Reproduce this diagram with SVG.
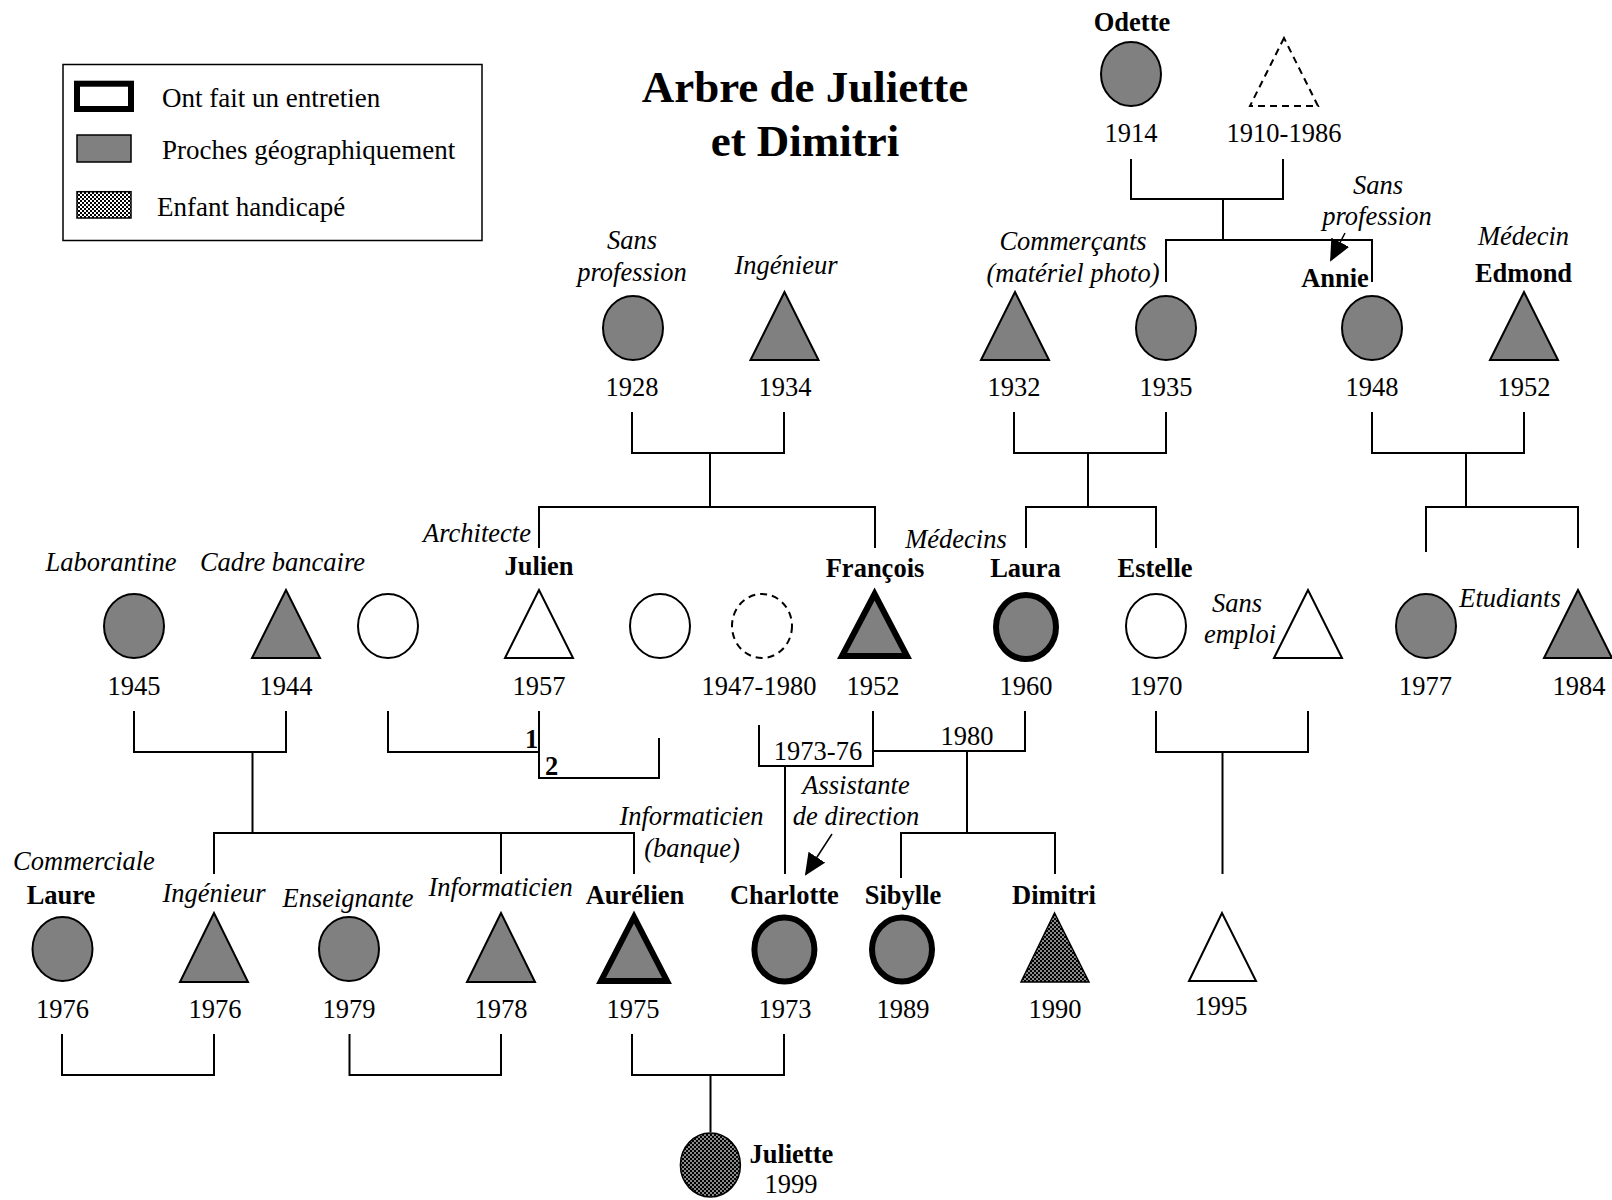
<svg xmlns="http://www.w3.org/2000/svg" width="1612" height="1200" viewBox="0 0 1612 1200">
<style>
text{font-family:"Liberation Serif","Times New Roman",serif;font-size:26.5px;fill:#000}
.c{text-anchor:middle}
.b{font-weight:bold}
.i{font-style:italic}
.t{font-size:45px;font-weight:bold;text-anchor:middle}
.lg{font-size:27px}
.g{fill:#808080;stroke:#000;stroke-width:2}
.w{fill:#fff;stroke:#000;stroke-width:2}
.d{fill:#fff;stroke:#000;stroke-width:2;stroke-dasharray:7 5}
.k{fill:#808080;stroke:#000;stroke-width:6}
.h{fill:url(#chk);stroke:#000;stroke-width:1.5}
.ln{fill:none;stroke:#000;stroke-width:2}
</style>
<defs>
<pattern id="chk" width="4" height="4" patternUnits="userSpaceOnUse">
<rect width="4" height="4" fill="#8a8a8a"/>
<rect width="2" height="2" fill="#000"/>
<rect x="2" y="2" width="2" height="2" fill="#000"/>
</pattern>
<pattern id="chkw" width="4" height="4" patternUnits="userSpaceOnUse">
<rect width="4" height="4" fill="#fff"/>
<rect width="2" height="2" fill="#000"/>
<rect x="2" y="2" width="2" height="2" fill="#000"/>
</pattern>
<marker id="ah" markerWidth="22" markerHeight="20" refX="20" refY="10" orient="auto" markerUnits="userSpaceOnUse">
<path d="M0,0 L22,10 L0,20 Z" fill="#000"/>
</marker>
</defs>

<g id="legend">
<rect x="63" y="64.5" width="419" height="176" fill="#fff" stroke="#000" stroke-width="1.5"/>
<rect x="77" y="83.7" width="54" height="25.3" fill="#fff" stroke="#000" stroke-width="6"/>
<text class="lg" x="162" y="107">Ont fait un entretien</text>
<rect x="77" y="135" width="54" height="27" fill="#808080" stroke="#000" stroke-width="1.5"/>
<text class="lg" x="162" y="159">Proches géographiquement</text>
<rect x="77" y="191.7" width="54" height="26.3" fill="url(#chkw)" stroke="#000" stroke-width="1.5"/>
<text class="lg" x="157" y="216">Enfant handicapé</text>
</g>

<g id="title">
<text class="t" x="805" y="102">Arbre de Juliette</text>
<text class="t" x="805" y="156">et Dimitri</text>
</g>

<g id="connectors">
<path class="ln" d="M1131,159 V199 H1283 V159 M1223,199 V240 M1166,282 V240 H1372 V282"/>
<line x1="1345" y1="233" x2="1331" y2="260" stroke="#000" stroke-width="1.5" marker-end="url(#ah)"/>
<path class="ln" d="M632,412 V453 H784 V412 M710,453 V507 M539,548 V507 H875 V548"/>
<path class="ln" d="M1014,412 V453 H1166 V412 M1088,453 V507 M1026,548 V507 H1156 V548"/>
<path class="ln" d="M1372,412 V453 H1524 V412 M1466,453 V507 M1426,552 V507 H1578 V548"/>
<path class="ln" d="M134,711 V752 H286 V711 M252.5,752 V833 M214,874 V833 H634 V874 M501,833 V874"/>
<path class="ln" d="M388,711 V752 H539 M539,711 V778 H659 V738"/>
<path class="ln" d="M759,725 V766 H873 V711 M785,766 V874"/>
<path class="ln" d="M873,751 H1025 V711 M967,751 V833 M901,878 V833 H1055 V874"/>
<path class="ln" d="M1156,711 V752 H1308 V711 M1222.5,752 V874"/>
<line x1="832" y1="834" x2="806" y2="874" stroke="#000" stroke-width="1.5" marker-end="url(#ah)"/>
<path class="ln" d="M62,1034 V1075 H214 V1034 M349.5,1034 V1075 H501 V1034 M632,1034 V1075 H784 V1034 M710.5,1075 V1132"/>
<text class="b" x="531.5" y="748" text-anchor="middle">1</text>
<text class="b" x="551.5" y="775" text-anchor="middle">2</text>
<text class="c" x="818" y="760">1973-76</text>
<text class="c" x="967" y="745">1980</text>
</g>

<g id="odette"><text class="c b" x="1132" y="31">Odette</text><ellipse class="g" cx="1131" cy="74" rx="30" ry="32"/><text class="c" x="1131" y="142">1914</text></g>
<g id="grandpere"><polygon class="d" points="1284,38 1250,106 1318,106"/><text class="c" x="1284" y="142">1910-1986</text></g>

<g id="p1928"><text class="c i" x="632" y="249">Sans</text><text class="c i" x="632" y="281">profession</text><ellipse class="g" cx="633" cy="328" rx="30" ry="32"/><text class="c" x="632" y="396">1928</text></g>
<g id="p1934"><text class="c i" x="786" y="274">Ingénieur</text><polygon class="g" points="784.5,292 750.5,360 818.5,360"/><text class="c" x="785" y="396">1934</text></g>
<g id="p1932"><text class="c i" x="1073" y="250">Commerçants</text><text class="c i" x="1073" y="282">(matériel photo)</text><polygon class="g" points="1015,292 981,360 1049,360"/><text class="c" x="1014" y="396">1932</text></g>
<g id="p1935"><ellipse class="g" cx="1166" cy="328" rx="30" ry="32"/><text class="c" x="1166" y="396">1935</text></g>
<g id="annie"><text class="c i" x="1378" y="194">Sans</text><text class="c i" x="1377" y="225">profession</text><text class="c b" x="1335" y="287">Annie</text><ellipse class="g" cx="1372" cy="328" rx="30" ry="32"/><text class="c" x="1372" y="396">1948</text></g>
<g id="edmond"><text class="c i" x="1523.5" y="245">Médecin</text><text class="c b" x="1523.5" y="282">Edmond</text><polygon class="g" points="1524,292 1490,360 1558,360"/><text class="c" x="1524" y="396">1952</text></g>

<g id="p1945"><text class="c i" x="111" y="571">Laborantine</text><ellipse class="g" cx="134" cy="626" rx="30" ry="32"/><text class="c" x="134" y="695">1945</text></g>
<g id="p1944"><text class="c i" x="282.5" y="571">Cadre bancaire</text><polygon class="g" points="286,590 252,658 320,658"/><text class="c" x="286" y="695">1944</text></g>
<g id="exfemme1"><ellipse class="w" cx="388" cy="626" rx="30" ry="32"/></g>
<g id="julien"><text class="i" x="531" y="542" text-anchor="end">Architecte</text><text class="c b" x="539" y="575">Julien</text><polygon class="w" points="539,590 505,658 573,658"/><text class="c" x="539" y="695">1957</text></g>
<g id="exfemme2"><ellipse class="w" cx="660" cy="626" rx="30" ry="32"/></g>
<g id="p1947"><ellipse class="d" cx="762" cy="626" rx="30" ry="32"/><text class="c" x="759" y="695">1947-1980</text></g>
<g id="francois"><text class="c b" x="875" y="577">François</text><polygon class="k" points="874.6,594 842,656 907,656"/><text class="c" x="873" y="695">1952</text></g>
<g id="laura"><text class="c i" x="956" y="548">Médecins</text><text class="c b" x="1025.5" y="577">Laura</text><ellipse class="k" cx="1026" cy="627" rx="30" ry="32"/><text class="c" x="1026" y="695">1960</text></g>
<g id="estelle"><text class="c b" x="1155" y="577">Estelle</text><ellipse class="w" cx="1156" cy="626" rx="30" ry="32"/><text class="c" x="1156" y="695">1970</text></g>
<g id="conjoint"><text class="c i" x="1237" y="612">Sans</text><text class="c i" x="1240" y="643">emploi</text><polygon class="w" points="1308,590 1274,658 1342,658"/></g>
<g id="p1977"><ellipse class="g" cx="1426" cy="626" rx="30" ry="32"/><text class="c" x="1425.5" y="695">1977</text></g>
<g id="p1984"><text class="c i" x="1510" y="607">Etudiants</text><polygon class="g" points="1578,590 1544,658 1612,658"/><text class="c" x="1579" y="695">1984</text></g>

<g id="laure"><text class="c i" x="84" y="870">Commerciale</text><text class="c b" x="61" y="904">Laure</text><ellipse class="g" cx="62.5" cy="949" rx="30" ry="32"/><text class="c" x="62.5" y="1018">1976</text></g>
<g id="p1976"><text class="c i" x="214" y="902">Ingénieur</text><polygon class="g" points="214,913 180,982 248,982"/><text class="c" x="215" y="1018">1976</text></g>
<g id="p1979"><text class="c i" x="348" y="907">Enseignante</text><ellipse class="g" cx="349" cy="949" rx="30" ry="32"/><text class="c" x="349" y="1018">1979</text></g>
<g id="p1978"><text class="c i" x="500.6" y="896">Informaticien</text><polygon class="g" points="501,913 467,982 535,982"/><text class="c" x="501" y="1018">1978</text></g>
<g id="aurelien"><text class="c i" x="691.5" y="825">Informaticien</text><text class="c i" x="692" y="857">(banque)</text><text class="c b" x="635" y="904">Aurélien</text><polygon class="k" points="634,917 601,981 667,981"/><text class="c" x="633" y="1018">1975</text></g>
<g id="charlotte"><text class="c i" x="856" y="794">Assistante</text><text class="c i" x="856" y="825">de direction</text><text class="c b" x="784.4" y="904">Charlotte</text><ellipse class="k" cx="784.4" cy="949.5" rx="30" ry="32"/><text class="c" x="785" y="1018">1973</text></g>
<g id="sibylle"><text class="c b" x="903" y="904">Sibylle</text><ellipse class="k" cx="902" cy="949.5" rx="30" ry="32"/><text class="c" x="903" y="1018">1989</text></g>
<g id="dimitri"><text class="c b" x="1054" y="904">Dimitri</text><polygon class="h" points="1054.5,913 1021,982 1089,982"/><text class="c" x="1055" y="1018">1990</text></g>
<g id="p1995"><polygon class="w" points="1222,913 1189,981 1256,981"/><text class="c" x="1221" y="1015">1995</text></g>
<g id="juliette"><ellipse class="h" cx="710.4" cy="1165" rx="30" ry="32"/><text class="b" x="749.4" y="1163">Juliette</text><text class="c" x="791" y="1193">1999</text></g>
</svg>
